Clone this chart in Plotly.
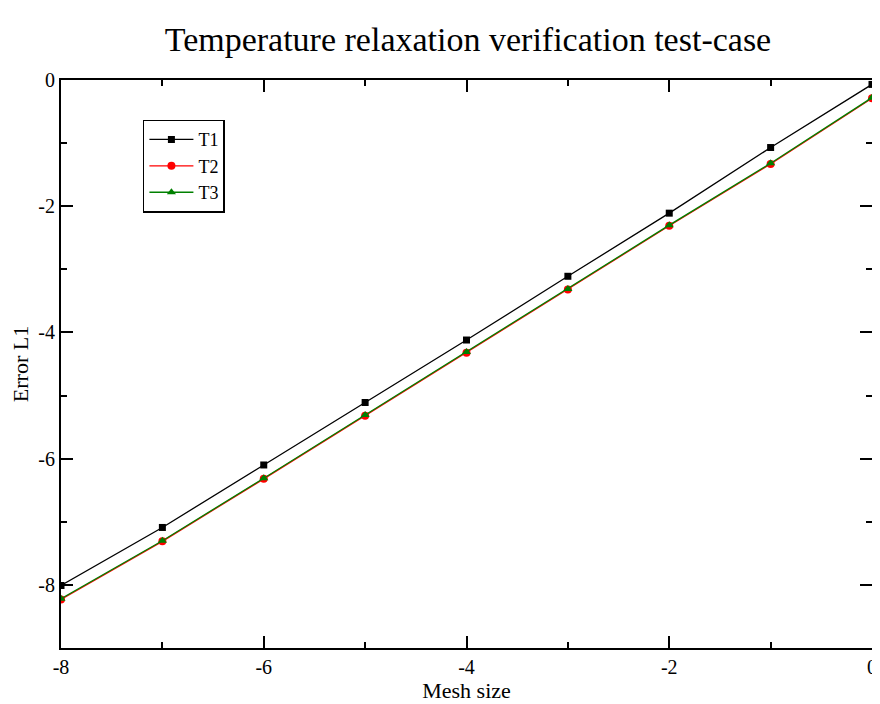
import plotly.graph_objects as go

mesh = [-8, -7, -6, -5, -4, -3, -2, -1, 0]
t1 = [-8.01, -7.09, -6.10, -5.11, -4.12, -3.11, -2.11, -1.07, -0.07]
t2 = [-8.23, -7.31, -6.32, -5.32, -4.32, -3.32, -2.31, -1.33, -0.29]
t3 = [-8.22, -7.30, -6.31, -5.31, -4.31, -3.31, -2.30, -1.32, -0.28]

font = "Liberation Serif"

fig = go.Figure()
fig.add_trace(go.Scatter(x=mesh, y=t1, name="T1", mode="lines+markers",
                         line=dict(color="black", width=1.3),
                         marker=dict(symbol="square", size=7, color="black")))
fig.add_trace(go.Scatter(x=mesh, y=t2, name="T2", mode="lines+markers",
                         line=dict(color="red", width=1.3),
                         marker=dict(symbol="circle", size=8, color="red")))
fig.add_trace(go.Scatter(x=mesh, y=t3, name="T3", mode="lines+markers",
                         line=dict(color="green", width=1.3),
                         marker=dict(symbol="triangle-up", size=8, color="green")))

axis_common = dict(showgrid=False, zeroline=False, showline=True, linecolor="black",
                   linewidth=2, mirror="allticks", ticks="inside", ticklen=12,
                   tickwidth=1.5, tickcolor="black", automargin=False,
                   tickfont=dict(family=font, size=20, color="black"))

# page body has an 8px margin, so the figure is offset by 8px
fig.update_layout(
    width=872, height=696,
    paper_bgcolor="white", plot_bgcolor="white",
    font=dict(family=font, color="black"),
    margin=dict(l=53, r=8, t=72, b=56),
    title=dict(text="Temperature relaxation verification test-case",
               x=0.5275, xanchor="center", y=0.955, yanchor="middle",
               automargin=False,
               font=dict(family=font, size=34, color="black")),
    xaxis=dict(range=[-8, 0], tickvals=[-8, -6, -4, -2, 0],
               ticktext=["-8", "-6", "-4", "-2", "0"],
               title=dict(text="Mesh size", font=dict(family=font, size=22, color="black"), standoff=2),
               minor=dict(tickvals=[-7, -5, -3, -1], ticks="inside", ticklen=6, tickcolor="black", tickwidth=1.5),
               **axis_common),
    yaxis=dict(range=[-9, 0], tickvals=[-8, -6, -4, -2, 0],
               ticktext=["-8", "-6", "-4", "-2", "0"],
               title=dict(text="Error L1", font=dict(family=font, size=22, color="black"), standoff=11),
               minor=dict(tickvals=[-9, -7, -5, -3, -1], ticks="inside", ticklen=6, tickcolor="black", tickwidth=1.5),
               **axis_common),
    legend=dict(x=0.101, y=0.93, xanchor="left", yanchor="top",
                bordercolor="black", borderwidth=1.5, bgcolor="white",
                font=dict(family=font, size=18, color="black"),
                tracegroupgap=0, itemwidth=44),
    showlegend=True,
)

fig.write_html("out.html")
